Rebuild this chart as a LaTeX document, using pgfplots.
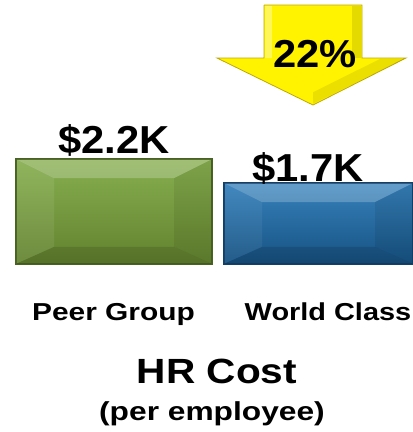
\documentclass[border=0pt]{standalone}
\usepackage{pgfplots}
\pgfplotsset{compat=1.18}
\usepackage{graphicx}
\usepackage{fontspec}
\setmainfont{Liberation Sans}
\definecolor{gmid}{RGB}{112,146,58}
\definecolor{gtop}{RGB}{135,175,80}
\definecolor{gbot}{RGB}{98,130,46}
\definecolor{gedge}{RGB}{72,98,34}
\definecolor{bmid}{RGB}{30,98,150}
\definecolor{btop}{RGB}{55,130,188}
\definecolor{bbot}{RGB}{22,82,130}
\definecolor{bedge}{RGB}{18,64,104}
\definecolor{yfill}{RGB}{255,243,0}
\definecolor{yedge}{RGB}{190,168,0}
\begin{document}
\begin{tikzpicture}
\useasboundingbox (0,0) rectangle (413bp,432bp);
\begin{axis}[
  at={(0,0)}, anchor=south west,
  scale only axis, width=413bp, height=432bp,
  xmin=0, xmax=413, ymin=-3.522, ymax=5.535,
  axis lines=none, clip=false,
]
% bars
\addplot[ybar, bar width=196, bar shift=0pt, top color=gtop, bottom color=gbot, draw=gedge, line width=1.2pt] coordinates {(114,2.2)};
\addplot[ybar, bar width=189, bar shift=0pt, top color=btop, bottom color=bbot, draw=bedge, line width=1.2pt] coordinates {(318.5,1.7)};
% bevels green
\addplot[fill=white, fill opacity=0.22, draw=none] coordinates {(16.6,2.19) (211.4,2.19) (174,1.8) (54,1.8)};
\addplot[fill=black, fill opacity=0.12, draw=none] coordinates {(16.6,0.01) (211.4,0.01) (174,0.36) (54,0.36)};
\addplot[fill=white, fill opacity=0.08, draw=none] coordinates {(16.6,0.01) (16.6,2.19) (54,1.8) (54,0.36)};
\addplot[fill=black, fill opacity=0.07, draw=none] coordinates {(211.4,0.01) (211.4,2.19) (174,1.8) (174,0.36)};
% bevels blue
\addplot[fill=white, fill opacity=0.22, draw=none] coordinates {(224.6,1.69) (412.4,1.69) (375,1.3) (262,1.3)};
\addplot[fill=black, fill opacity=0.12, draw=none] coordinates {(224.6,0.01) (412.4,0.01) (375,0.36) (262,0.36)};
\addplot[fill=white, fill opacity=0.06, draw=none] coordinates {(224.6,0.01) (224.6,1.69) (262,1.3) (262,0.36)};
\addplot[fill=black, fill opacity=0.08, draw=none] coordinates {(412.4,0.01) (412.4,1.69) (375,1.3) (375,0.36)};
% arrow
\addplot[fill=yfill, draw=yedge, line width=0.8pt] coordinates {(264,5.43) (362,5.43) (362,4.319) (406,4.319) (313,3.333) (217,4.319) (264,4.319) (264,5.43)};
\addplot[fill=black, fill opacity=0.10, draw=none] coordinates {(352,5.40) (361,5.40) (361,4.319) (352,4.319)};
\addplot[fill=white, fill opacity=0.35, draw=none] coordinates {(265,5.40) (272,5.40) (272,4.319) (265,4.319)};
\addplot[fill=black, fill opacity=0.08, draw=none] coordinates {(313,3.36) (404,4.30) (380,4.30) (313,3.6)};
% labels
\node[anchor=base, font=\bfseries\fontsize{39bp}{39bp}\selectfont] at (axis cs:114,2.327) {\scalebox{1.07}[1]{\$2.2K}};
\node[anchor=base, font=\bfseries\fontsize{39bp}{39bp}\selectfont] at (axis cs:308,1.735) {\scalebox{1.07}[1]{\$1.7K}};
\node[anchor=base, font=\bfseries\fontsize{39bp}{39bp}\selectfont] at (axis cs:315,4.13) {\scalebox{1.07}[1]{22\%}};
\node[anchor=base, font=\bfseries\fontsize{24.5bp}{24.5bp}\selectfont] at (axis cs:113.5,-1.174) {\scalebox{1.22}[1]{Peer Group}};
\node[anchor=base, font=\bfseries\fontsize{24.5bp}{24.5bp}\selectfont] at (axis cs:328,-1.174) {\scalebox{1.18}[1]{World Class}};
\node[anchor=base, font=\bfseries\fontsize{35bp}{35bp}\selectfont] at (axis cs:217,-2.495) {\scalebox{1.16}[1]{HR Cost}};
\node[anchor=base, font=\bfseries\fontsize{26bp}{26bp}\selectfont] at (axis cs:212,-3.291) {\scalebox{1.22}[1]{(per employee)}};
\end{axis}
\end{tikzpicture}
\end{document}
